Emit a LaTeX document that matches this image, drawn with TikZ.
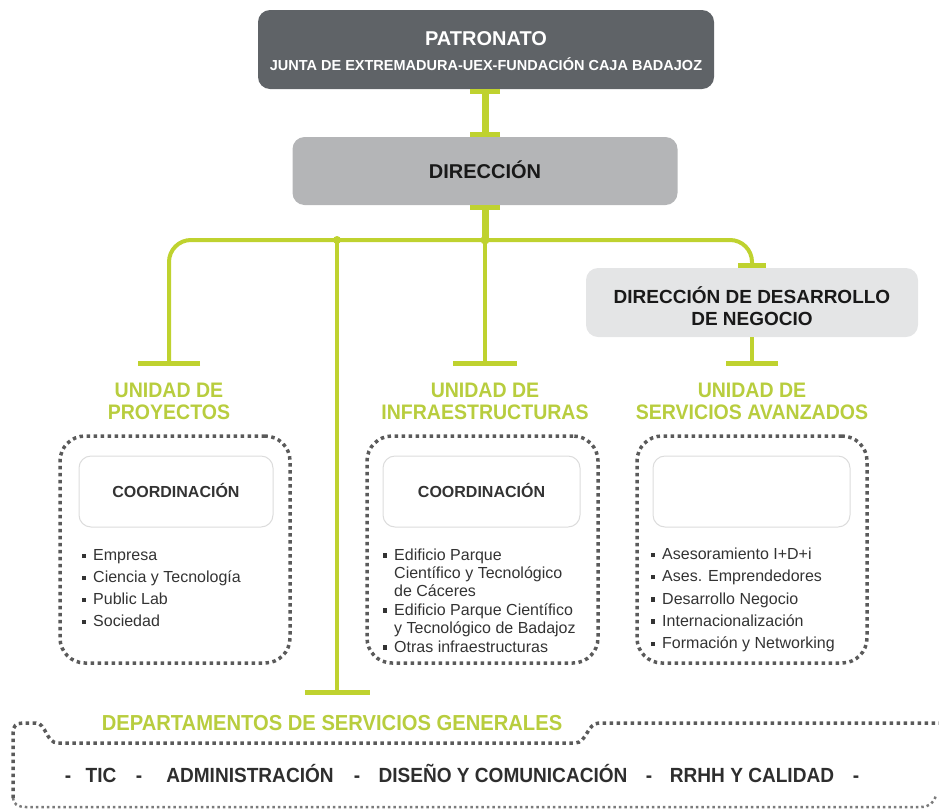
\documentclass[tikz,border=0pt]{standalone}
\usepackage{fontspec}
\setmainfont{Liberation Sans}
\newfontfamily\lblfont[FakeStretch=0.93]{Liberation Sans}
\usetikzlibrary{arrows.meta}
\definecolor{patc}{HTML}{5F6367}
\definecolor{dirc}{HTML}{B4B5B7}
\definecolor{ddnc}{HTML}{E4E5E6}
\definecolor{grn}{HTML}{BFD22F}
\definecolor{grntxt}{HTML}{B8CD3E}
\definecolor{dotc}{HTML}{5A5A5A}
\definecolor{txtc}{HTML}{333333}
\definecolor{innc}{HTML}{DCDCDC}
\newcommand{\sqbul}{\llap{\rule[2.5pt]{4.5pt}{4.5pt}\hspace{7pt}}}
\begin{document}
\begin{tikzpicture}[x=1pt,y=-1pt,
  gline/.style={draw=grn, line width=4pt},
  thickline/.style={draw=grn, line width=7pt},
  patbox/.style={fill=patc, rounded corners=12pt, inner sep=0pt, minimum width=456pt, minimum height=79pt},
  dirbox/.style={fill=dirc, rounded corners=12pt, inner sep=0pt, minimum width=385pt, minimum height=68pt},
  ddnbox/.style={fill=ddnc, rounded corners=12pt, inner sep=0pt, minimum width=332pt, minimum height=69pt},
  dotline/.style={draw=dotc, line width=3.5pt, dash pattern=on 3.5pt off 3.5pt},
  dotline2/.style={draw=dotc!80, line width=2.5pt, dash pattern=on 2.5pt off 3pt},
  dotbox/.style={dotline, rounded corners=25pt, inner sep=0pt, minimum height=227pt},
  innerbox/.style={draw=innc, line width=1pt, fill=white, rounded corners=12pt, inner sep=0pt, minimum height=71pt, minimum width=196pt,
     font=\bfseries\fontsize{16}{19}\selectfont, text=txtc, text height=11.5pt, text depth=0pt},
  unitlbl/.style={align=center, text=grntxt, inner sep=0pt, font=\lblfont\bfseries\fontsize{21}{22}\selectfont},
  itemtxt/.style={anchor=base west, inner sep=0pt, text=txtc, font=\fontsize{16}{19}\selectfont},
  tictxt/.style={anchor=base, inner sep=0pt, text=txtc!90!black, font=\lblfont\bfseries\fontsize{20.5}{24}\selectfont},
]
\useasboundingbox (0,0) rectangle (939,809);

% top boxes
\node[patbox] (pat) at (486,49.5) {};
\node[anchor=base, inner sep=0pt, text=white, font=\bfseries\fontsize{20}{24}\selectfont] (patt1) at (486,45) {PATRONATO};
\node[anchor=base, inner sep=0pt, text=white, font=\bfseries\fontsize{14.5}{17}\selectfont] (patt2) at (486,70.5) {JUNTA DE EXTREMADURA-UEX-FUNDACIÓN CAJA BADAJOZ};

\node[dirbox, text=black!90, font=\bfseries\fontsize{20}{24}\selectfont, text height=14.3pt, text depth=0pt] (dir) at (485,171) {DIRECCIÓN};

\node[ddnbox] (ddn) at (752,302.5) {};
\node[align=center, inner sep=0pt, text=black!90, font=\bfseries\fontsize{19}{22}\selectfont] (ddnt) at (752,306) {DIRECCIÓN DE DESARROLLO\\DE NEGOCIO};

% coordinates
\coordinate (hj) at (485,240);
\coordinate (lj) at (337,240);
\coordinate (t1) at (169,366);
\coordinate (t2) at (485,366);
\coordinate (t3) at (752,366);
\coordinate (t4) at (337,695);

% connectors
\draw[thickline, {Bar[width=30pt,line width'=5pt]}-{Bar[width=30pt,line width'=5pt]}] (pat.south -| dir.north) -- (dir.north);
\draw[thickline, {Bar[width=30pt,line width'=5pt]}-] (dir.south) -- (hj);
\draw[gline, rounded corners=22pt, {Bar[width=62pt,line width'=5pt]}-{Bar[width=28pt,line width'=5pt]}] (t1) |- (hj) -| (ddn.north);
\draw[gline, -{Bar[width=64pt,line width'=5pt]}] (hj) -- (t2);
\draw[gline, -{Bar[width=52pt,line width'=5pt]}] (ddn.south) -- (t3);
\draw[gline, -{Bar[width=65pt,line width'=5pt]}] (lj) -- (t4);
\fill[grn] (hj) circle (4.5pt);
\fill[grn] (lj) circle (4pt);

% unit labels
\node[unitlbl] (u1) at (169,401) {UNIDAD DE\\PROYECTOS};
\node[unitlbl] (u2) at (485,401) {UNIDAD DE\\INFRAESTRUCTURAS};
\node[unitlbl] (u3) at (752,401) {UNIDAD DE\\SERVICIOS AVANZADOS};

% dotted boxes
\node[dotbox, minimum width=230pt] (b1) at (175,549.5) {};
\node[dotbox, minimum width=231pt] (b2) at (482.5,549.5) {};
\node[dotbox, minimum width=230pt] (b3) at (752,549.5) {};

\node[innerbox, minimum width=194pt] (i1) at (176,491.5) {COORDINACIÓN};
\node[innerbox, minimum width=197pt] (i2) at (481.5,491.5) {COORDINACIÓN};
\node[innerbox, minimum width=197pt] (i3) at (751.5,491.5) {};

% lists
\foreach \t [count=\i] in {Empresa, Ciencia y Tecnología, Public Lab, Sociedad}
  \node[itemtxt] (p\i) at (93,{560.5+22*(\i-1)}) {\sqbul\t};
\foreach \b/\t [count=\i] in {1/Edificio Parque, 0/Científico y Tecnológico, 0/de Cáceres, 1/Edificio Parque Científico, 0/y Tecnológico de Badajoz, 1/Otras infraestructuras}
  \node[itemtxt] (q\i) at (394,{560+18.4*(\i-1)}) {\ifnum\b=1 \sqbul\fi\t};
\foreach \t [count=\i] in {Asesoramiento I+D+i, Ases. Emprendedores, Desarrollo Negocio, Internacionalización, Formación y Networking}
  \node[itemtxt] (r\i) at (662,{559.5+22.3*(\i-1)}) {\sqbul\t};

% bottom section
\node[unitlbl, font=\lblfont\bfseries\fontsize{21.7}{24}\selectfont] (dep) at (332,723) {DEPARTAMENTOS DE SERVICIOS GENERALES};
\draw[dotline] (13,798) -- (13,733) .. controls (13,726) and (16,723) .. (23,723) -- (36,723)
  .. controls (46,723) and (46,743) .. (58,743) -- (575,743)
  .. controls (587,743) and (587,723) .. (599,723) -- (939,723);
\draw[dotline2] (13,798) .. controls (13,804) and (18,807) .. (26,807) -- (921,807)
  .. controls (929,807) and (934,803) .. (936,795);

\foreach \x/\t [count=\i] in {68/-, 101/TIC, 139/-, 250/ADMINISTRACIÓN, 357/-, 503/DISEÑO Y COMUNICACIÓN, 649/-, 752/RRHH Y CALIDAD, 856/-}
  \node[tictxt] (s\i) at (\x,782) {\t};
\end{tikzpicture}
\end{document}
